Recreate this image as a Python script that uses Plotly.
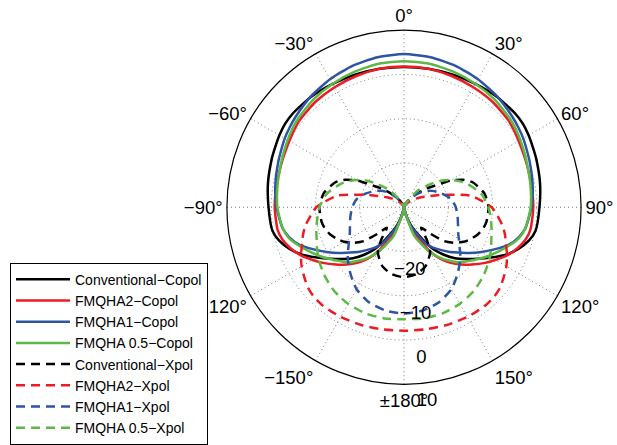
import plotly.graph_objects as go

# Angles (deg, clockwise from top) read on the right half; the patterns are symmetric
theta_half = [0, 10, 20, 30, 40, 50, 55, 60, 65, 70, 80, 90, 100, 105, 110, 115,
              120, 125, 130, 135, 140, 145, 150, 160, 170, 180]

conv_copol = [1.7, 1.75, 1.9, 2.2, 2.6, 2.85, 2.8, 2.5, 2.1, 1.8, 1.2, 0.6, 0.2,
              -0.8, -2.5, -4.6, -7.3, -9.7, -11.8, -13.7, -16.0, -18.4, -21.6,
              -26.0, -29.3, -30.0]
fm2_copol = [1.8, 1.75, 1.55, 1.3, 1.1, 0.7, 0.3, -0.1, -0.4, -0.6, -0.8, -0.8, -1.0,
             -1.6, -2.8, -4.3, -6.2, -8.0, -9.9, -11.7, -13.6, -15.8, -18.8,
             -24.5, -29.0, -30.0]
fm1_copol = [4.6, 4.4, 4.0, 3.4, 2.7, 1.9, 1.5, 1.1, 0.6, 0.2, -0.5, -1.2, -2.2,
             -3.3, -5.0, -7.5, -9.8, -12.0, -14.1, -15.8, -17.5, -19.0, -21.0,
             -25.5, -29.3, -30.0]
fm05_copol = [3.0, 2.9, 2.6, 2.2, 1.8, 1.2, 0.8, 0.35, -0.1, -0.5, -1.0, -1.4, -2.2,
              -3.1, -4.7, -6.4, -8.0, -9.6, -11.1, -12.4, -14.3, -16.2, -18.3,
              -23.0, -29.0, -30.0]

conv_xpol = [-30.0, -29.9, -29.5, -28.5, -26.5, -23.5, -21.5, -18.0, -15.3, -13.5,
             -11.6, -10.9, -11.1, -11.5, -12.2, -13.2, -14.4, -16.0, -18.1, -21.5,
             -24.0, -21.0, -18.2, -15.8, -14.6, -14.2]
fm2_xpol = [-30.0, -30.0, -29.8, -29.4, -28.6, -27.3, -26.5, -25.5, -24.2, -22.0,
            -14.8, -10.2, -7.5, -6.4, -5.5, -4.3, -3.3, -2.5, -1.7, -1.3, -1.2,
            -1.3, -1.4, -1.7, -2.0, -2.1]
fm1_xpol = [-30.0, -30.0, -29.6, -28.5, -26.8, -24.5, -23.5, -22.6, -21.8, -20.9,
            -19.2, -18.3, -17.7, -17.4, -17.0, -16.5, -15.7, -14.7, -13.4, -12.2,
            -11.0, -9.8, -8.6, -7.1, -6.3, -6.0]
fm05_xpol = [-30.0, -29.9, -29.5, -28.2, -25.0, -21.5, -19.5, -17.7, -16.1, -14.7,
             -12.3, -10.9, -10.0, -9.5, -9.0, -8.3, -7.6, -7.0, -6.4, -5.9, -5.4,
             -5.1, -4.8, -4.5, -4.5, -4.7]

series_names = ["Conventional−Copol", "FMQHA2−Copol", "FMQHA1−Copol", "FMQHA 0.5−Copol",
                "Conventional−Xpol", "FMQHA2−Xpol", "FMQHA1−Xpol", "FMQHA 0.5−Xpol"]
series_vals = [conv_copol, fm2_copol, fm1_copol, fm05_copol,
               conv_xpol, fm2_xpol, fm1_xpol, fm05_xpol]
series_colors = ["#000000", "#ED1C24", "#2E54A4", "#5DB946",
                 "#000000", "#ED1C24", "#2E54A4", "#5DB946"]
series_dash = ["solid"] * 4 + ["9px,6px"] * 4

angle_tickvals = [0, 30, 60, 90, 120, 150, 180, 210, 240, 270, 300, 330]
angle_ticktext = ["0°", "30°", "60°", "90°", "120°", "150°", "±180°",
                  "−150°", "−120°", "−90°", "−60°", "−30°"]
radial_tickvals = [-20, -10, 0, 10]
radial_ticktext = ["−20", "−10", "0", "10"]
radial_label_angle = 172.5

theta_full = theta_half + [360 - t for t in theta_half[-2::-1]]


def mirror(v):
    return v + v[-2::-1]


fig = go.Figure()
for name, vals, col, dash in zip(series_names, series_vals, series_colors, series_dash):
    fig.add_trace(go.Scatterpolar(
        r=mirror(vals), theta=theta_full, mode="lines", name=name,
        line=dict(color=col, width=2.5, dash=dash, shape="spline", smoothing=0.6),
        hoverinfo="skip",
    ))

FONT = "Liberation Sans, Arial, Helvetica, sans-serif"

# radial tick labels, placed through the polar scales (invisible marker gives offset)
fig.add_trace(go.Scatterpolar(
    r=radial_tickvals, theta=[radial_label_angle] * len(radial_tickvals),
    mode="markers+text", text=radial_ticktext, textposition="bottom center",
    marker=dict(size=14, opacity=0),
    textfont=dict(size=18.5, family=FONT, color="black"),
    showlegend=False, hoverinfo="skip", cliponaxis=False,
))

W, H = 617, 445
cx, cy, R = 404, 213, 182

fig.update_layout(
    width=W, height=H,
    margin=dict(l=0, r=0, t=0, b=0),
    paper_bgcolor="white",
    font=dict(family=FONT, color="black"),
    showlegend=True,
    legend=dict(
        x=10 / W, y=1 - 270 / H, xanchor="left", yanchor="top",
        bgcolor="white", bordercolor="black", borderwidth=1,
        font=dict(size=14, family=FONT, color="black"),
        itemwidth=54,
    ),
    polar=dict(
        domain=dict(x=[(cx - R) / W, (cx + R) / W], y=[(H - cy - R) / H, (H - cy + R) / H]),
        bgcolor="white",
        angularaxis=dict(
            rotation=90, direction="clockwise",
            tickmode="array", tickvals=angle_tickvals, ticktext=angle_ticktext,
            tickfont=dict(size=18.5, family=FONT, color="black"),
            showline=True, linecolor="black", linewidth=1.2,
            showgrid=True, gridcolor="#777777", gridwidth=1, griddash="1px,3px",
            ticks="",
        ),
        radialaxis=dict(
            range=[-30, 10],
            tickmode="array", tickvals=radial_tickvals, ticktext=radial_ticktext,
            showticklabels=False, showline=False, ticks="",
            showgrid=True, gridcolor="#777777", gridwidth=1, griddash="1px,3px",
        ),
    ),
)

fig.write_html("out.html")
